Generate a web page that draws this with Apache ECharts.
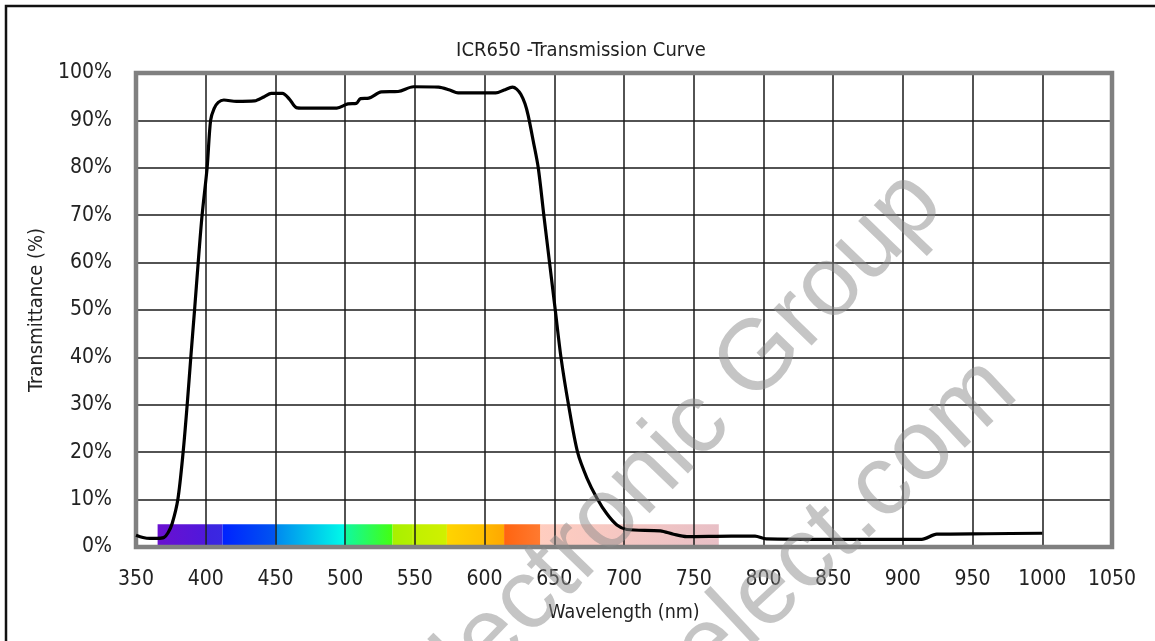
<!DOCTYPE html>
<html>
<head>
<meta charset="utf-8">
<script src="https://cdn.jsdelivr.net/npm/echarts@6/dist/echarts.min.js"></script>
<style>html,body{margin:0;padding:0;background:#fff}#c{width:1155px;height:641px}</style>
</head>
<body>
<div id="c"></div>
<script>
// ---- data ----
var wavelength = [350,355,360,365,370,373,376,380,383.8,386.7,389.3,392,394.6,397.4,401,403.5,406,409,413,422,435,442,447,455,460,465,470,494,502,508,511,517,526,538,549,567,575,581,608,614,620,623,626,629,631.3,635,638.5,642.5,646.6,650.7,654.8,660.2,666.7,673.5,680.6,687.7,694.9,702,726,735.5,745,777,794,802,850,913.5,924.3,960,1000];
var transmittance = [2.5,2.0,1.8,1.8,2.0,3.0,5.0,10,20,30,40,50,60,70,80,90,92.5,93.8,94.3,94.0,94.1,95.0,95.7,95.7,94.5,92.7,92.6,92.6,93.5,93.6,94.6,94.7,96.0,96.1,97.1,97.0,96.4,95.8,95.8,96.4,97.0,96.6,95.5,93.5,91,85.5,80,70,60,50,40,30,20,14.5,10.3,7.0,4.65,3.7,3.4,2.7,2.2,2.3,2.3,1.7,1.6,1.6,2.7,2.8,2.9];
var bandStart = [365.5,400,412,450,500,534,548,573,600,614,640];
var bandEnd   = [400,412,450,500,534,548,573,600,614,640,768];
var bandFrom  = ['#6a10d0','#3c24e0','#0022ff','#0088f0','#10f8a0','#a8f000','#c0f000','#ffd400','#ffb800','#ff6410','#ffc4b4'];
var bandTo    = ['#5018dc','#3a28e2','#0055f0','#00fce8','#44ff10','#b4f000','#d0f000','#ffc000','#ffa800','#ff7a30','#e4b4bc'];
var bandTop = 4.8;
var titleText = 'ICR650 -Transmission Curve';
var xName = 'Wavelength (nm)';
var yName = 'Transmittance (%)';
var watermark1 = 'Electronic Group';
var watermark2 = 'select.com';

var FONT = "'DejaVu Sans Condensed','Liberation Sans',sans-serif";

var pts = wavelength.map(function(w,i){return [w, transmittance[i]];});
var bands = bandStart.map(function(s,i){
  return [
    {xAxis:s, yAxis:0, itemStyle:{color:new echarts.graphic.LinearGradient(0,0,1,0,[{offset:0,color:bandFrom[i]},{offset:1,color:bandTo[i]}]), opacity: i===10?0.85:1}},
    {xAxis:bandEnd[i], yAxis:bandTop}
  ];
});

var chart = echarts.init(document.getElementById('c'), null, {renderer:'canvas'});
chart.setOption({
  animation:false,
  backgroundColor:'#fff',
  title:{text:titleText, left:576, top:36, textAlign:'center',
    textStyle:{fontFamily:FONT, fontSize:20, fontWeight:'normal', color:'#222'}},
  grid:{left:136, right:43, top:73, bottom:94, show:true, borderColor:'#808080', borderWidth:4.5, backgroundColor:'transparent', z:4},
  xAxis:{type:'value', min:350, max:1050, interval:50, z:3,
    name:xName, nameLocation:'middle', nameGap:56,
    nameTextStyle:{fontFamily:FONT, fontSize:19.5, color:'#222'},
    axisLine:{show:false}, axisTick:{show:false},
    axisLabel:{fontFamily:FONT, fontSize:21, color:'#222', margin:22, formatter:function(v){return String(v);}},
    splitLine:{show:true, lineStyle:{color:'#1a1a1a', width:1.5}}},
  yAxis:{type:'value', min:0, max:100, interval:10, z:3,
    name:yName, nameLocation:'middle', nameGap:77,
    nameTextStyle:{fontFamily:FONT, fontSize:20, color:'#222'},
    axisLine:{show:false}, axisTick:{show:false},
    axisLabel:{fontFamily:FONT, fontSize:21, color:'#222', margin:24, formatter:'{value}%'},
    splitLine:{show:true, lineStyle:{color:'#1a1a1a', width:1.5}}},
  series:[
    {type:'line', data:[], z:1, silent:true,
      markArea:{silent:true, data:bands}},
    {type:'line', data:pts, z:5, showSymbol:false, smooth:0.3,
      lineStyle:{color:'#000', width:3.2}}
  ],
  graphic:[
    {type:'rect', shape:{x:6, y:6, width:1160, height:660}, style:{fill:'none', stroke:'#111', lineWidth:2.5}, z:10},
    {type:'text', x:962, y:222, rotation:Math.PI*46/180, z:20,
      style:{text:watermark1, textAlign:'right', textVerticalAlign:'bottom', font:"100px 'Liberation Sans',sans-serif", fill:'rgba(140,140,140,0.5)'}},
    {type:'text', x:1036, y:412, rotation:Math.PI*43/180, z:20,
      style:{text:watermark2, textAlign:'right', textVerticalAlign:'bottom', font:"100px 'Liberation Sans',sans-serif", fill:'rgba(140,140,140,0.5)'}}
  ]
});
</script>
</body>
</html>
